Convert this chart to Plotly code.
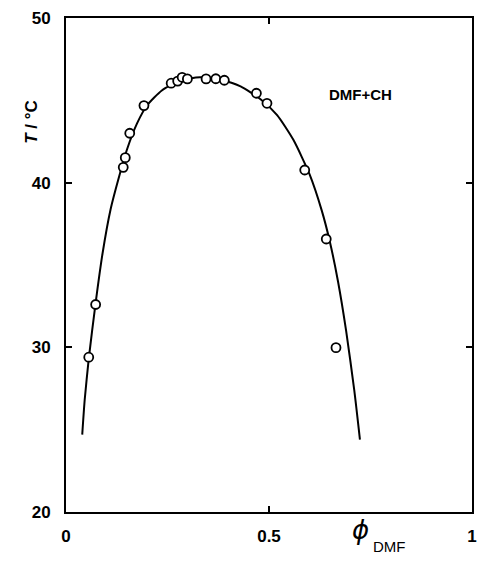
import plotly.graph_objects as go

# measured data points
phi_pts = [0.056, 0.073, 0.141, 0.146, 0.157, 0.192, 0.259, 0.275, 0.286, 0.299,
           0.345, 0.369, 0.390, 0.469, 0.495, 0.588, 0.641, 0.665]
T_pts = [29.4, 32.6, 40.93, 41.52, 43.0, 44.68, 46.04, 46.17, 46.40, 46.30,
         46.30, 46.31, 46.22, 45.43, 44.82, 40.77, 36.58, 29.98]

# fitted curve (traced)
phi_curve = [0.040, 0.046, 0.056, 0.073, 0.090, 0.110, 0.130, 0.150, 0.175, 0.200,
             0.236, 0.28, 0.33, 0.38, 0.43, 0.48, 0.52, 0.56, 0.60, 0.63, 0.65,
             0.67, 0.69, 0.71, 0.724]
T_curve = [24.7, 26.8, 29.3, 32.7, 35.7, 38.4, 40.3, 42.0, 43.6, 44.7,
           45.6, 46.2, 46.4, 46.25, 45.85, 45.05, 44.1, 42.6, 40.5, 38.3, 36.4,
           34.0, 31.0, 27.4, 24.4]

x_ticks = [0, 0.5, 1]
x_ticktext = ["0", "0.5", "1"]
y_ticks = [20, 30, 40, 50]

FONT = "Liberation Sans"

fig = go.Figure()
fig.add_trace(go.Scatter(x=phi_curve, y=T_curve, mode="lines",
                         line=dict(color="black", width=2, shape="spline", smoothing=0.6),
                         hoverinfo="skip"))
fig.add_trace(go.Scatter(x=phi_pts, y=T_pts, mode="markers",
                         marker=dict(symbol="circle", size=9, color="white",
                                     line=dict(color="black", width=1.8))))

axis_common = dict(showline=True, linecolor="black", linewidth=2, mirror="ticks",
                   ticks="inside", ticklen=6, tickwidth=2, tickcolor="black",
                   showgrid=False, zeroline=False,
                   tickfont=dict(family=FONT, size=17, color="black", weight="bold"))

fig.update_xaxes(range=[0, 1], tickvals=x_ticks, ticktext=x_ticktext,
                 ticklabelstandoff=8, **axis_common)
fig.update_yaxes(range=[20, 50], tickvals=y_ticks, ticklabelstandoff=10, **axis_common)

fig.add_annotation(text="<i>T</i> / °C", xref="paper", yref="paper",
                   x=-0.115, y=0.838, textangle=-90, showarrow=False,
                   font=dict(family=FONT, size=17, color="black", weight="bold"))
fig.add_annotation(text="<i>ϕ</i>", xref="paper", yref="paper", x=0.750, y=-0.070,
                   xanchor="right", showarrow=False,
                   font=dict(family="DejaVu Sans", size=26, color="black"))
fig.add_annotation(text="DMF", xref="paper", yref="paper", x=0.752, y=-0.092,
                   xanchor="left", showarrow=False,
                   font=dict(family=FONT, size=15, color="black"))
fig.add_annotation(text="DMF+CH", xref="paper", yref="paper", x=0.808, y=0.866,
                   showarrow=False,
                   font=dict(family=FONT, size=15, color="black", weight="bold"))

fig.update_layout(width=482, height=562, showlegend=False,
                  margin=dict(l=66, r=5, t=18, b=50),
                  plot_bgcolor="white", paper_bgcolor="white")

fig.write_html("out.html")
